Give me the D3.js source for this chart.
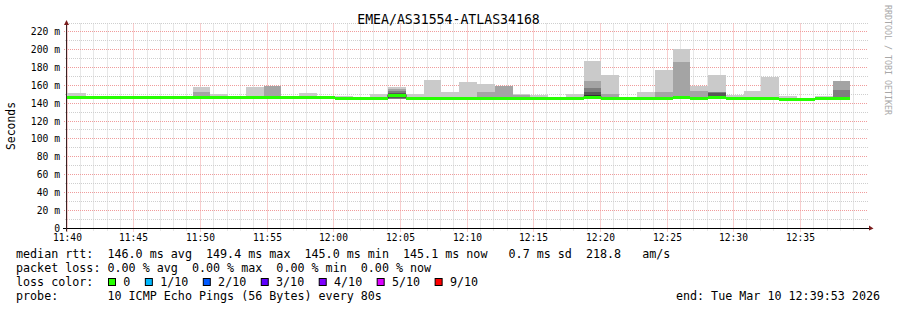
<!DOCTYPE html>
<html>
<head>
<meta charset="utf-8">
<script src="https://cdn.jsdelivr.net/npm/d3@7"></script>
<style>
    body { margin: 0; background: #fff; }
    svg { display: block; }
    text { font-family: "DejaVu Sans Mono", monospace; fill: #000; }
</style>
</head>
<body>
<svg id="chart" width="897" height="310"></svg>
<script>
/** ------------- DATA -------------- */

const title = "EMEA/AS31554-ATLAS34168";
const yLabel = "Seconds";
const day = "2026-03-10";
const xStart = "11:40:00";
const xEnd = "12:40:00";
const firstBin = "11:40:05";
const stepSec = 80;

const yTicks = [0, 20, 40, 60, 80, 100, 120, 140, 160, 180, 200, 220];
const yTickLabels = ["0", "20 m", "40 m", "60 m", "80 m", "100 m", "120 m", "140 m", "160 m", "180 m", "200 m", "220 m"];
const xTickLabels = ["11:40", "11:45", "11:50", "11:55", "12:00", "12:05", "12:10", "12:15", "12:20", "12:25", "12:30", "12:35"];

// median rtt per 80 s step (ms)
const median = [
    146.6, 146.6, 146.6, 146.6, 146.6, 146.6, 146.6, 146.6, 146.6, 146.6, 146.6, 146.6, 146.6, 146.6, 146.6,
    145.6, 145.6, 145.6, 149.4, 146.2, 146.2, 146.2, 146.2, 145.4, 145.4, 145.4, 146.2, 145.6, 145.6,
    147.3, 146.4, 146.0, 146.0, 146.0, 146.6, 145.8, 147.0, 145.8, 145.8, 145.8, 145.1, 145.1, 145.6, 145.4
];

// the 10 pings of each step, sorted (ms)
const ping1 = [
    145.6, 145.6, 145.6, 145.6, 145.6, 145.6, 145.6, 145.6, 145.6, 145.6, 145.6, 145.6, 145.6, 145.6, 145.6,
    144.6, 144.6, 144.6, 145.2, 145.2, 145.2, 145.2, 145.2, 144.4, 144.4, 144.4, 145.2, 144.6, 144.6,
    145.0, 145.4, 145.0, 145.0, 145.0, 145.6, 144.8, 146.0, 144.8, 144.8, 144.8, 144.1, 144.1, 144.6, 144.4
];
const ping2 = [
    145.8, 145.8, 145.8, 145.8, 145.8, 145.8, 145.8, 145.8, 145.8, 145.8, 145.8, 145.8, 145.8, 145.8, 145.8,
    144.8, 144.8, 144.8, 145.6, 145.4, 145.4, 145.4, 145.4, 144.6, 144.6, 144.6, 145.4, 144.8, 144.8,
    145.5, 145.6, 145.2, 145.2, 145.2, 145.8, 145.0, 146.2, 145.0, 145.0, 145.0, 144.3, 144.3, 144.8, 144.6
];
const ping3 = [
    146.0, 146.0, 146.0, 146.0, 146.0, 146.0, 146.0, 146.0, 146.0, 146.0, 146.0, 146.0, 146.0, 146.0, 146.0,
    145.0, 145.0, 145.0, 145.8, 145.6, 145.6, 145.6, 145.6, 144.8, 144.8, 144.8, 145.6, 145.0, 145.0,
    146.0, 145.8, 145.4, 145.4, 145.4, 146.0, 145.2, 146.4, 145.2, 145.2, 145.2, 144.5, 144.5, 145.0, 144.8
];
const ping4 = [
    146.2, 146.2, 146.2, 146.2, 146.2, 146.2, 146.2, 146.2, 146.2, 146.2, 146.2, 146.2, 146.2, 146.2, 146.2,
    145.2, 145.2, 145.2, 146.0, 145.8, 145.8, 145.8, 145.8, 145.0, 145.0, 145.0, 145.8, 145.2, 145.2,
    146.5, 146.0, 145.6, 145.6, 145.6, 146.2, 145.4, 146.6, 145.4, 145.4, 145.4, 144.7, 144.7, 145.2, 145.0
];
const ping5 = [
    146.5, 146.5, 146.5, 146.5, 146.5, 146.5, 146.5, 146.5, 146.5, 146.5, 146.5, 146.5, 146.5, 146.5, 146.5,
    145.5, 145.5, 145.5, 149.0, 146.1, 146.1, 146.1, 146.1, 145.3, 145.3, 145.3, 146.1, 145.5, 145.5,
    146.8, 146.3, 145.9, 145.9, 145.9, 146.5, 145.7, 146.9, 145.7, 145.7, 145.7, 145.0, 145.0, 145.5, 145.3
];
const ping6 = [
    146.7, 146.7, 146.7, 146.7, 146.7, 146.7, 146.7, 146.7, 146.7, 146.7, 146.7, 146.7, 146.7, 146.7, 146.7,
    145.7, 145.7, 145.7, 149.8, 146.3, 146.3, 146.3, 146.3, 145.5, 145.5, 145.5, 146.3, 145.7, 145.7,
    150.0, 146.5, 146.1, 146.1, 146.1, 146.7, 145.9, 147.1, 145.9, 145.9, 145.9, 145.2, 145.2, 145.7, 145.5
];
const ping7 = [
    146.8, 146.8, 146.8, 146.8, 146.8, 146.8, 146.8, 146.8, 146.8, 146.8, 146.8, 146.8, 146.8, 146.8, 146.8,
    145.8, 145.8, 145.8, 152.5, 146.4, 146.4, 146.4, 146.4, 145.6, 145.6, 145.6, 146.4, 145.8, 145.8,
    153.7, 146.6, 146.2, 146.2, 146.2, 146.8, 146.0, 152.0, 146.0, 146.0, 146.0, 145.3, 145.3, 145.8, 145.8
];
const ping8 = [
    146.9, 146.9, 146.9, 146.9, 146.9, 146.9, 146.9, 146.9, 146.9, 146.9, 146.9, 146.9, 146.9, 146.9, 146.9,
    145.9, 145.9, 145.9, 154.5, 146.5, 146.5, 146.5, 146.5, 145.7, 145.7, 145.7, 146.5, 145.9, 145.9,
    157.5, 146.7, 146.3, 146.3, 146.3, 148.5, 146.1, 152.8, 146.1, 146.1, 146.1, 145.4, 145.4, 145.9, 155.5
];
const ping9 = [
    147.2, 147.0, 147.1, 147.0, 147.0, 147.1, 147.0, 153.7, 147.4, 147.2, 147.5, 159.7, 147.2, 147.5, 147.1,
    146.3, 146.2, 146.6, 156.5, 147.0, 147.2, 147.0, 147.4, 153.3, 159.5, 150.3, 147.0, 146.4, 146.6,
    165.7, 151.0, 146.8, 147.0, 153.7, 186.3, 154.4, 153.7, 146.6, 146.8, 147.0, 145.9, 145.8, 146.3, 165.5
];
const ping10 = [
    152.0, 147.5, 147.3, 147.4, 147.2, 147.5, 147.3, 158.4, 150.7, 149.2, 159.3, 160.4, 149.2, 152.2, 148.2,
    149.2, 147.0, 151.0, 159.3, 151.0, 166.8, 153.3, 164.5, 162.3, 160.0, 150.5, 150.3, 148.0, 151.0,
    188.2, 172.4, 147.8, 153.7, 178.0, 201.7, 160.0, 172.4, 149.9, 154.8, 170.5, 148.8, 146.6, 148.8, 166.0
];

const smokeGrays = ["#cacaca", "#a4a4a4", "#7e7e7e", "#585858", "#323232"];
const lossLabels = ["0", "1/10", "2/10", "3/10", "4/10", "5/10", "9/10"];
const lossColors = ["#26ff00", "#00b8ff", "#0059ff", "#5e00ff", "#7e00ff", "#dd00ff", "#ff0000"];

const legendRtt = "median rtt:  146.0 ms avg  149.4 ms max  145.0 ms min  145.1 ms now   0.7 ms sd  218.8   am/s";
const legendLoss = "packet loss: 0.00 % avg  0.00 % max  0.00 % min  0.00 % now";
const legendColor = "loss color:";
const legendProbe = "probe:       10 ICMP Echo Pings (56 Bytes) every 80s";
const legendEnd = "end: Tue Mar 10 12:39:53 2026";
const watermark = "RRDTOOL / TOBI OETIKER";

/** ------------- SCALES -------------- */

const svg = d3.select("#chart");
const parseT = d3.timeParse("%Y-%m-%d %H:%M:%S");
const t = (s) => parseT(day + " " + s);

const x = d3.scaleTime().domain([t(xStart), t(xEnd)]).range([67, 867]);
const y = d3.scaleLinear().domain([0, 230.6]).range([228.5, 23]);
const px = (v) => Math.floor(v) + 0.5;
const py = (v) => Math.round(v) - 0.5;
const [plotLeft, plotRight] = x.range();
const [plotBottom, plotTop] = y.range();

/** ------------- GRID -------------- */

const minorY = y.ticks(24).filter((v) => v > 0 && yTicks.indexOf(v) < 0);
const minorX = x.ticks(d3.timeMinute.every(1)).filter((d) => d.getMinutes() % 5 !== 0);
const majorX = x.ticks(d3.timeMinute.every(5)).filter((d) => d < t(xEnd));

const grid = svg.append("g").attr("stroke-dasharray", "1,1").attr("stroke-width", 1);
grid.selectAll(".hmin")
    .data(minorY)
    .join("line")
    .attr("x1", plotLeft - 2).attr("x2", plotRight + 1)
    .attr("y1", (d) => py(y(d))).attr("y2", (d) => py(y(d)))
    .attr("stroke", "#cfcfcf");
grid.selectAll(".vmin")
    .data(minorX)
    .join("line")
    .attr("x1", (d) => px(x(d))).attr("x2", (d) => px(x(d)))
    .attr("y1", plotBottom + 2).attr("y2", plotTop)
    .attr("stroke", "#cfcfcf");
grid.selectAll(".hmaj")
    .data(yTicks.filter((v) => v > 0))
    .join("line")
    .attr("x1", plotLeft - 3).attr("x2", plotRight + 1)
    .attr("y1", (d) => py(y(d))).attr("y2", (d) => py(y(d)))
    .attr("stroke", "#f09c9c");
grid.selectAll(".vmaj")
    .data(majorX)
    .join("line")
    .attr("x1", (d) => px(x(d))).attr("x2", (d) => px(x(d)))
    .attr("y1", plotBottom + 3).attr("y2", plotTop)
    .attr("stroke", "#f09c9c");

/** ------------- SMOKE -------------- */

const pings = [ping1, ping2, ping3, ping4, ping5, ping6, ping7, ping8, ping9, ping10];
const bins = median.map((m, i) => {
    const t0 = d3.timeSecond.offset(t(firstBin), i * stepSec);
    const t1 = d3.timeSecond.offset(t0, stepSec);
    return {
        x0: i === 0 ? plotLeft : Math.round(x(t0)),
        x1: Math.min(Math.round(x(t1)), plotRight),
        m: m,
        p: pings.map((arr) => arr[i]),
    };
});

smokeGrays.forEach((color, k) => {
    svg.append("g")
        .selectAll("rect")
        .data(bins)
        .join("rect")
        .attr("x", (d) => d.x0)
        .attr("width", (d) => d.x1 - d.x0)
        .attr("y", (d) => Math.round(y(d.p[9 - k])))
        .attr("height", (d) => Math.max(0, Math.round(y(d.p[k])) - Math.round(y(d.p[9 - k]))))
        .attr("fill", color);
});

// thin dark median line under the loss coloured band
const medianPts = bins.map((d) => [d.x0, py(y(d.m))]);
medianPts.push([bins[bins.length - 1].x1, py(y(bins[bins.length - 1].m))]);
svg.append("path")
    .attr("d", d3.line().curve(d3.curveStepAfter)(medianPts))
    .attr("fill", "none")
    .attr("stroke", "#202020")
    .attr("stroke-width", 1);

svg.append("g")
    .selectAll("rect")
    .data(bins)
    .join("rect")
    .attr("x", (d) => d.x0)
    .attr("width", (d) => d.x1 - d.x0)
    .attr("y", (d) => Math.round(y(d.m) - 1.5))
    .attr("height", 3)
    .attr("fill", lossColors[0]);

/** ------------- AXES -------------- */

svg.append("line")
    .attr("x1", plotLeft - 4).attr("x2", plotRight + 2)
    .attr("y1", py(plotBottom)).attr("y2", py(plotBottom))
    .attr("stroke", "#000");
svg.append("line")
    .attr("x1", px(plotLeft) - 1).attr("x2", px(plotLeft) - 1)
    .attr("y1", plotBottom + 3).attr("y2", plotTop - 2)
    .attr("stroke", "#3a2424");
svg.append("path")
    .attr("d", `M${plotLeft - 3},${plotTop + 2}L${plotLeft + 2},${plotTop + 2}L${plotLeft - 0.5},${plotTop - 3}Z`)
    .attr("fill", "#7a1c1c");
svg.append("path")
    .attr("d", `M${plotRight + 2},${plotBottom - 3}L${plotRight + 2},${plotBottom + 2}L${plotRight + 6.5},${py(plotBottom)}Z`)
    .attr("fill", "#7a1c1c");

svg.append("g")
    .selectAll("text")
    .data(yTicks)
    .join("text")
    .attr("x", 60)
    .attr("y", (d) => py(y(d)) + 3.5)
    .attr("text-anchor", "end")
    .style("font-size", "9.7px")
    .text((d, i) => yTickLabels[i]);

svg.append("g")
    .selectAll("text")
    .data(majorX)
    .join("text")
    .attr("x", (d) => px(x(d)))
    .attr("y", 240.5)
    .attr("text-anchor", "middle")
    .style("font-size", "9.6px")
    .text((d, i) => xTickLabels[i]);

/** ------------- TITLES -------------- */

svg.append("text")
    .attr("x", 448.5)
    .attr("y", 24)
    .attr("text-anchor", "middle")
    .style("font-size", "13.2px")
    .text(title);

svg.append("text")
    .attr("transform", "translate(15,126) rotate(-90)")
    .attr("text-anchor", "middle")
    .style("font-size", "11.4px")
    .text(yLabel);

svg.append("text")
    .attr("transform", "translate(885,5) rotate(90)")
    .style("font-size", "8.3px")
    .style("fill", "#a8a8a8")
    .text(watermark);

/** ------------- LEGEND -------------- */

const legendRows = [legendRtt, legendLoss, legendColor, legendProbe];
svg.append("g")
    .selectAll("text")
    .data(legendRows)
    .join("text")
    .attr("x", 16)
    .attr("y", (d, i) => 257.5 + i * 14.2)
    .attr("xml:space", "preserve")
    .style("white-space", "pre")
    .style("font-size", "11.7px")
    .text((d) => d);

let lx = 108.5;
lossLabels.forEach((label, i) => {
    svg.append("rect")
        .attr("x", lx)
        .attr("y", 278.5)
        .attr("width", 7)
        .attr("height", 7)
        .attr("fill", lossColors[i])
        .attr("stroke", "#000");
    const txt = svg.append("text")
        .attr("x", lx + 14.8)
        .attr("y", 285.9)
        .style("font-size", "11.7px")
        .text(label);
    lx += 14.8 + txt.node().getComputedTextLength() + 15;
});

svg.append("text")
    .attr("x", 880)
    .attr("y", 300.1)
    .attr("text-anchor", "end")
    .style("font-size", "11.7px")
    .text(legendEnd);
</script>
</body>
</html>
